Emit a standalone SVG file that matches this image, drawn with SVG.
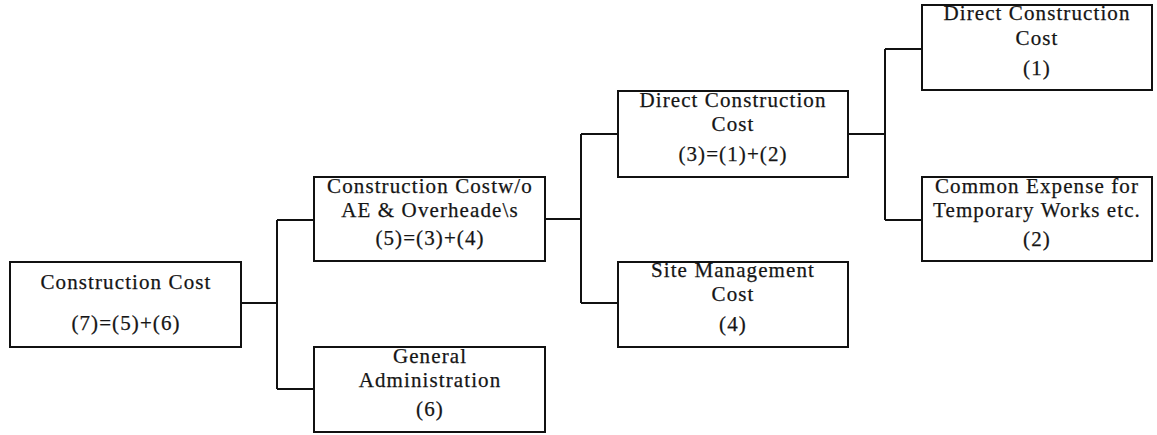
<svg xmlns="http://www.w3.org/2000/svg" width="1157" height="435" viewBox="0 0 1157 435">
  <style>
    .box { fill: #ffffff; stroke: #111111; stroke-width: 2; }
    .lbl { font-family: "Liberation Serif", "Times New Roman", serif; font-size: 21px; letter-spacing: 1.1px; fill: #151515; stroke: #151515; stroke-width: 0.25; text-anchor: middle; }
    .wire { fill: none; stroke: #111111; stroke-width: 2; }
  </style>
  <rect width="1157" height="435" fill="#ffffff"/>

  <!-- connectors -->
  <g id="connectors">
    <path class="wire" d="M241 303 H277 M277 220 V389 M277 220 H314 M277 389 H314"/>
    <path class="wire" d="M545 219 H581 M581 134 V303 M581 134 H618 M581 303 H618"/>
    <path class="wire" d="M848 134 H885 M885 49 V220 M885 49 H922 M885 220 H922"/>
  </g>

  <g id="construction-cost">
    <rect class="box" x="10" y="262" width="231" height="85"/>
    <text class="lbl" x="126" y="289">Construction Cost</text>
    <text class="lbl" x="126" y="330">(7)=(5)+(6)</text>
  </g>

  <g id="cost-without-overheads">
    <rect class="box" x="314" y="177" width="231" height="84"/>
    <text class="lbl" x="430" y="193">Construction Costw/o</text>
    <text class="lbl" x="430" y="217">AE &amp; Overheade\s</text>
    <text class="lbl" x="430" y="245">(5)=(3)+(4)</text>
  </g>

  <g id="general-administration">
    <rect class="box" x="314" y="347" width="231" height="85"/>
    <text class="lbl" x="430" y="363">General</text>
    <text class="lbl" x="430" y="387">Administration</text>
    <text class="lbl" x="430" y="416">(6)</text>
  </g>

  <g id="direct-construction-cost-3">
    <rect class="box" x="618" y="91" width="230" height="86"/>
    <text class="lbl" x="733" y="107">Direct Construction</text>
    <text class="lbl" x="733" y="131">Cost</text>
    <text class="lbl" x="733" y="161">(3)=(1)+(2)</text>
  </g>

  <g id="site-management-cost">
    <rect class="box" x="618" y="262" width="230" height="85"/>
    <text class="lbl" x="733" y="277">Site Management</text>
    <text class="lbl" x="733" y="301">Cost</text>
    <text class="lbl" x="733" y="331">(4)</text>
  </g>

  <g id="direct-construction-cost-1">
    <rect class="box" x="922" y="5" width="230" height="85"/>
    <text class="lbl" x="1037" y="20">Direct Construction</text>
    <text class="lbl" x="1037" y="45">Cost</text>
    <text class="lbl" x="1037" y="75">(1)</text>
  </g>

  <g id="common-expense">
    <rect class="box" x="922" y="177" width="230" height="84"/>
    <text class="lbl" x="1037" y="193">Common Expense for</text>
    <text class="lbl" x="1037" y="217">Temporary Works etc.</text>
    <text class="lbl" x="1037" y="246">(2)</text>
  </g>
</svg>
